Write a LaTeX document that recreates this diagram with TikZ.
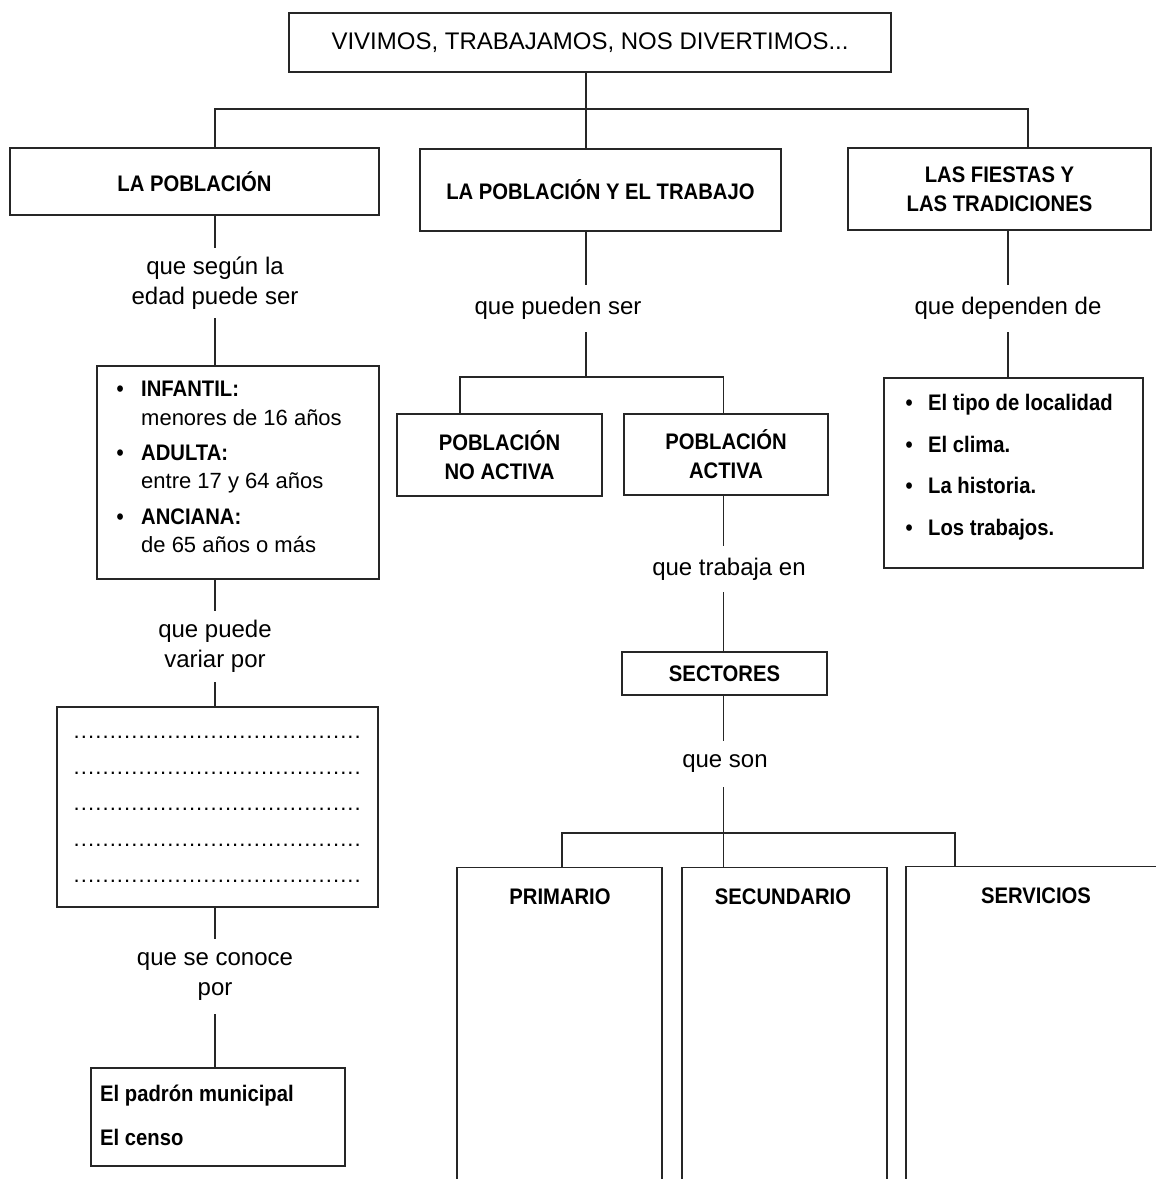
\documentclass[tikz,border=0pt]{standalone}
\usepackage{fontspec}
\setmainfont{Liberation Sans}[BoldFeatures={FakeStretch=0.9}]
\begin{document}
\begin{tikzpicture}[x=1pt,y=-1pt,
  line/.style={draw=black!85, line width=1.3pt},
  box/.style={draw=black!85, line width=1.3pt, rectangle, inner sep=0pt},
  lab/.style={font=\fontsize{24}{30}\selectfont, align=center, inner sep=0pt},
  hd/.style={font=\fontsize{22.5}{29}\selectfont\bfseries, align=center, inner sep=0pt},
  itm/.style={font=\fontsize{22.5}{25}\selectfont\bfseries, anchor=base west, inner sep=0pt},
  sub/.style={font=\fontsize{22}{26}\selectfont, anchor=base west, inner sep=0pt},
  dotrow/.style={font=\fontsize{22}{26}\selectfont, anchor=base west, inner sep=0pt},
]
\useasboundingbox (0,0) rectangle (1156,1179);
\fill[white] (0,0) rectangle (1156,1179);

% ---------- top ----------
\node[box, lab, minimum width=602pt, minimum height=59pt] (title) at (590,42.5) {VIVIMOS, TRABAJAMOS, NOS DIVERTIMOS...};
\node[box, hd, minimum width=369pt, minimum height=67pt] (pob) at (194.5,181.5) {LA POBLACIÓN};
\node[box, hd, minimum width=361pt, minimum height=82pt] (lpyt) at (600.5,190) {LA POBLACIÓN Y EL TRABAJO};
\node[box, hd, minimum width=303pt, minimum height=82pt] (fiestas) at (999.5,189) {LAS FIESTAS Y\\LAS TRADICIONES};

\coordinate (colL) at (215,0);
\coordinate (colM) at (586,0);
\coordinate (colR) at (1028,0);
\coordinate (colR2) at (1008,0);
\coordinate (busTop) at (0,109);
\draw[line] (colL |- pob.north) -- (colL |- busTop) -- (colR |- busTop) -- (colR |- fiestas.north);
\draw[line] (colM |- title.south) -- (colM |- lpyt.north);

% ---------- left column ----------
\node[lab, minimum height=70pt] (q1) at (215,283) {que según la\\edad puede ser};
\node[box, minimum width=282pt, minimum height=213pt] (edad) at (238,472.5) {};
\node[itm] (e1) at (116.4,396) {\makebox[24.6pt][l]{\textbullet}INFANTIL:};
\node[sub] (e2) at (141,425) {menores de 16 años};
\node[itm] (e3) at (116.4,460) {\makebox[24.6pt][l]{\textbullet}ADULTA:};
\node[sub] (e4) at (141,488) {entre 17 y 64 años};
\node[itm] (e5) at (116.4,524) {\makebox[24.6pt][l]{\textbullet}ANCIANA:};
\node[sub] (e6) at (141,552) {de 65 años o más};
\node[lab, minimum height=71pt] (q2) at (215,646.5) {que puede\\variar por};
\node[box, minimum width=321pt, minimum height=200pt] (blanks) at (217.5,807) {};
\foreach \yy/\nm in {738.5/d1, 774.5/d2, 810.5/d3, 846.5/d4, 882.5/d5}
  \node[dotrow] (\nm) at (71,\yy) {\hbox to 292pt{\cleaders\hbox to 7.2pt{\hss.\hss}\hfill}};
\node[lab, minimum height=75pt] (q3) at (215,976.5) {que se conoce\\por};
\node[box, minimum width=254pt, minimum height=98pt] (fuentes) at (218,1117) {};
\node[itm] (f1) at (100,1101) {El padrón municipal};
\node[itm] (f2) at (100,1145) {El censo};

\draw[line] (colL |- pob.south) -- (colL |- q1.north);
\draw[line] (colL |- q1.south) -- (colL |- edad.north);
\draw[line] (colL |- edad.south) -- (colL |- q2.north);
\draw[line] (colL |- q2.south) -- (colL |- blanks.north);
\draw[line] (colL |- blanks.south) -- (colL |- q3.north);
\draw[line] (colL |- q3.south) -- (colL |- fuentes.north);

% ---------- middle column ----------
\node[lab, minimum height=47pt] (q4) at (558,308.5) {que pueden ser};
\coordinate (bm) at (0,377);
\coordinate (cPNA) at (460,0);
\coordinate (cPA) at (723.5,0);
\node[box, hd, minimum width=205pt, minimum height=82pt] (pna) at (499.5,455) {POBLACIÓN\\NO ACTIVA};
\node[box, hd, minimum width=204pt, minimum height=81pt] (pa) at (726,454.5) {POBLACIÓN\\ACTIVA};
\draw[line] (colM |- lpyt.south) -- (colM |- q4.north);
\draw[line] (colM |- q4.south) -- (colM |- bm);
\draw[line] (cPNA |- pna.north) -- (cPNA |- bm) -- (cPA |- bm) -- (cPA |- pa.north);

\node[lab, minimum height=46pt] (q6) at (729,569) {que trabaja en};
\node[box, hd, minimum width=205pt, minimum height=43pt] (sect) at (724.5,673.5) {SECTORES};
\node[lab, minimum height=46pt] (q7) at (725,764) {que son};
\draw[line] (cPA |- pa.south) -- (cPA |- q6.north);
\draw[line] (cPA |- q6.south) -- (cPA |- sect.north);
\draw[line] (cPA |- sect.south) -- (cPA |- q7.north);

\node[box, anchor=north, minimum width=205pt, minimum height=400pt] (prim) at (559.5,867) {};
\node[box, anchor=north, minimum width=205pt, minimum height=400pt] (sec) at (784.5,867) {};
\node[box, anchor=north, minimum width=300pt, minimum height=400pt] (serv) at (1056,866) {};
\node[hd, anchor=base] (primt) at (560,904) {PRIMARIO};
\node[hd, anchor=base] (sect2) at (783,904) {SECUNDARIO};
\node[hd, anchor=base] (servt) at (1036,903) {SERVICIOS};

\coordinate (bs) at (0,833);
\coordinate (cPrim) at (562,0);
\coordinate (cServ) at (955,0);
\draw[line] (cPA |- q7.south) -- (cPA |- sec.north);
\draw[line] (cPrim |- prim.north) -- (cPrim |- bs) -- (cServ |- bs) -- (cServ |- serv.north);

% ---------- right column ----------
\node[lab, minimum height=47pt] (q5) at (1008,308.5) {que dependen de};
\node[box, minimum width=259pt, minimum height=190pt] (dep) at (1013.5,473) {};
\node[itm] (r1) at (905.4,410) {\makebox[22.6pt][l]{\textbullet}El tipo de localidad};
\node[itm] (r2) at (905.4,452) {\makebox[22.6pt][l]{\textbullet}El clima.};
\node[itm] (r3) at (905.4,493) {\makebox[22.6pt][l]{\textbullet}La historia.};
\node[itm] (r4) at (905.4,535) {\makebox[22.6pt][l]{\textbullet}Los trabajos.};
\draw[line] (colR2 |- fiestas.south) -- (colR2 |- q5.north);
\draw[line] (colR2 |- q5.south) -- (colR2 |- dep.north);
\end{tikzpicture}
\end{document}
